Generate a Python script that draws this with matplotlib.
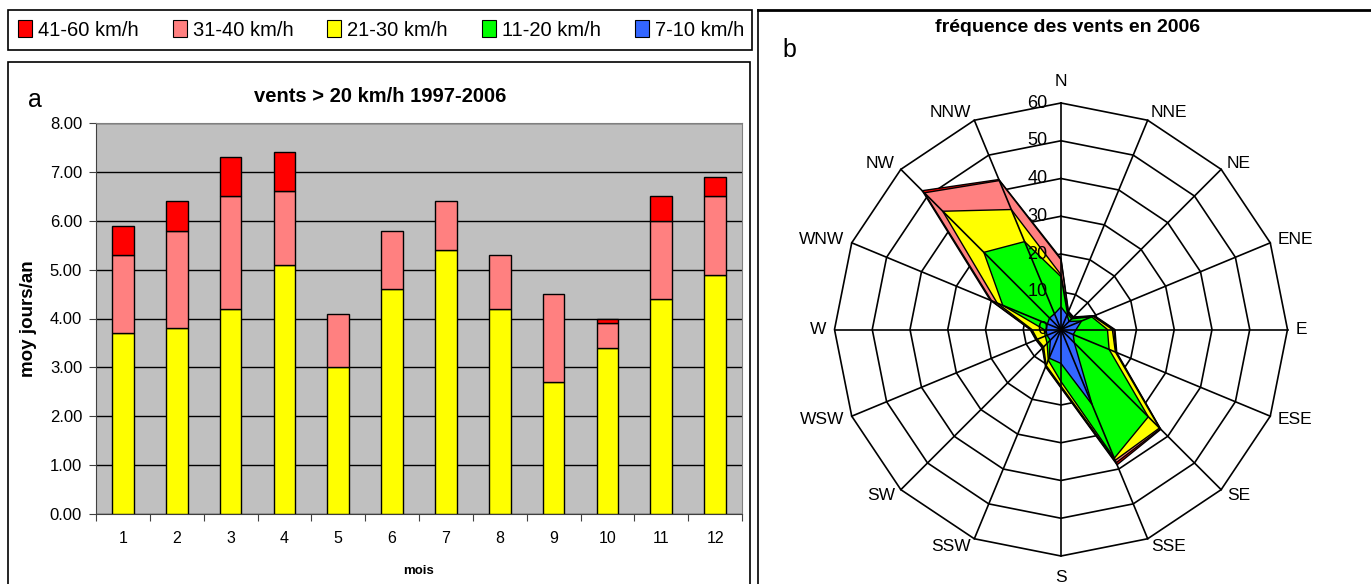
import numpy as np
import matplotlib.pyplot as plt
from matplotlib.patches import Patch, Rectangle
from matplotlib.lines import Line2D

plt.rcParams['font.family'] = ['Liberation Sans', 'DejaVu Sans']

# --- donnees graphique a : vents > 20 km/h 1997-2006 (moy jours/an)
mois = np.arange(1, 13)
v21_30 = np.array([3.7, 3.8, 4.2, 5.1, 3.0, 4.6, 5.4, 4.2, 2.7, 3.4, 4.4, 4.9])
v31_40 = np.array([1.6, 2.0, 2.3, 1.5, 1.1, 1.2, 1.0, 1.1, 1.8, 0.5, 1.6, 1.6])
v41_60 = np.array([0.6, 0.6, 0.8, 0.8, 0.0, 0.0, 0.0, 0.0, 0.0, 0.1, 0.5, 0.4])

# --- donnees graphique b : frequence des vents en 2006 (valeurs cumulees)
directions = ['N', 'NNE', 'NE', 'ENE', 'E', 'ESE', 'SE', 'SSE',
              'S', 'SSW', 'SW', 'WSW', 'W', 'WNW', 'NW', 'NNW']
f41_60 = [18.8, 5.2, 4.7, 9.6, 14.3, 16.0, 37.4, 38.8, 15.5, 10.7, 7.0, 7.2, 8.2, 20.3, 52.0, 43.0]
f31_40 = [18.5, 5.0, 4.5, 9.4, 14.0, 15.8, 37.2, 38.2, 15.3, 10.5, 6.8, 7.0, 8.0, 19.9, 51.2, 42.7]
f21_30 = [14.5, 4.8, 4.3, 9.2, 13.6, 15.6, 36.9, 37.5, 15.0, 10.3, 6.5, 6.8, 7.7, 18.3, 44.3, 34.4]
f11_20 = [14.0, 4.5, 4.0, 8.8, 12.3, 13.8, 32.7, 36.9, 13.8, 8.8, 5.2, 4.5, 4.5, 16.7, 28.9, 25.2]
f7_10 = [6.0, 4.2, 3.0, 5.9, 4.0, 3.5, 5.0, 21.5, 9.0, 8.2, 4.0, 4.0, 4.0, 3.9, 4.3, 4.5]

classes = ['41-60 km/h', '31-40 km/h', '21-30 km/h', '11-20 km/h', '7-10 km/h']
couleurs = ['#FF0000', '#FF8080', '#FFFF00', '#00FF00', '#3366FF']

W, H = 1371, 584
fig = plt.figure(figsize=(W/100, H/100), dpi=100)

def box(x0, y0, x1, y1):
    return [x0/W, 1-y1/H, (x1-x0)/W, (y1-y0)/H]

def ligne(x0, y0, x1, y1, lw=1.5):
    fig.add_artist(Line2D([x0/W, x1/W], [1-y0/H, 1-y1/H], color='black', lw=lw))

# cadres
fig.add_artist(Rectangle((8/W, 1-50/H), 744/W, 40/H, transform=fig.transFigure,
                         fill=False, lw=1.2, ec='black'))
fig.add_artist(Rectangle((8/W, 1-620/H), 742/W, 558/H, transform=fig.transFigure,
                         fill=False, lw=1.2, ec='black'))
ligne(758, 10, 1371, 10, lw=2)
ligne(758, 10, 758, 584, lw=1.2)

# legende
handles = [Patch(facecolor=c, edgecolor='black', lw=0.8) for c in couleurs]
fig.legend(handles, classes, ncol=5, loc='center', mode='expand',
           bbox_to_anchor=(10/W, 1-50/H, 742/W, 40/H), frameon=False,
           fontsize=14.5, handlelength=0.7, handleheight=0.9, handletextpad=0.3,
           borderaxespad=0, columnspacing=1.0)

# ---------- a
ax = fig.add_axes(box(96, 123, 742, 514))
ax.set_facecolor('#C0C0C0')
ax.bar(mois, v21_30, 0.4, color=couleurs[2], edgecolor='black', lw=1, zorder=3)
ax.bar(mois, v31_40, 0.4, bottom=v21_30, color=couleurs[1], edgecolor='black', lw=1, zorder=3)
haut = v21_30 + v31_40
for m, h, b in zip(mois, v41_60, haut):
    if h > 0:
        ax.bar(m, h, 0.4, bottom=b, color=couleurs[0], edgecolor='black', lw=1, zorder=3)
ax.set_xlim(0.5, 12.5)
ax.set_ylim(0, 8)
ax.set_yticks(range(9))
ax.set_yticklabels(['%.2f' % v for v in range(9)], fontsize=12)
ax.yaxis.grid(True, color='black', lw=1)
ax.set_axisbelow(True)
ax.set_xticks(np.arange(0.5, 13, 1))
ax.set_xticklabels([])
ax.set_xticks(mois, minor=True)
ax.set_xticklabels([str(m) for m in mois], minor=True, fontsize=11.5)
ax.tick_params(axis='x', which='minor', length=0, pad=12)
ax.tick_params(axis='x', which='major', length=5, color='#404040')
ax.tick_params(axis='y', length=5, color='#404040', pad=5)
for s in ['top', 'right']:
    ax.spines[s].set_color('#808080')
for s in ['left', 'bottom']:
    ax.spines[s].set_color('#404040')
ax.set_xlabel('mois', fontweight='bold', fontsize=9.5, labelpad=14)
ax.set_ylabel('moy jours/an', fontweight='bold', fontsize=13.5, labelpad=9)
fig.text(380/W, 1-97/H, 'vents > 20 km/h 1997-2006', fontweight='bold',
         fontsize=14.5, ha='center', va='center')
fig.text(28/W, 1-100/H, 'a', fontsize=18, ha='left', va='center')

# ---------- b
cx, cy, ppu = 1061, 329.5, 226.5/60
R = 240/ppu
rax = fig.add_axes(box(cx-240, cy-240, cx+240, cy+240))
rax.set_xlim(-R, R)
rax.set_ylim(-R, R)
rax.axis('off')
theta = np.deg2rad(np.arange(16)*22.5)
sx, sy = np.sin(theta), np.cos(theta)

for v in range(10, 70, 10):
    rax.plot(np.append(v*sx, v*sx[0]), np.append(v*sy, v*sy[0]),
             color='black', lw=1.2, zorder=1)
for serie, c in zip([f41_60, f31_40, f21_30, f11_20, f7_10], couleurs):
    r = np.array(serie)
    rax.fill(r*sx, r*sy, facecolor=c, edgecolor='black', lw=1, zorder=2)
for a, b in zip(sx, sy):
    rax.plot([0, 60*a], [0, 60*b], color='black', lw=1.2, zorder=3)
for v in range(0, 70, 10):
    rax.text(-3.6, v, str(v), ha='right', va='center', fontsize=13, zorder=4)
for d, a, b in zip(directions, sx, sy):
    ha = 'left' if a > 0.1 else ('right' if a < -0.1 else 'center')
    va = 'bottom' if b > 0.99 else ('top' if b < -0.99 else 'center')
    k = 10 if abs(b) > 0.99 else 6
    rax.annotate(d, (60*a, 60*b), xytext=(k*a, k*b), textcoords='offset points',
                 ha=ha, va=va, fontsize=12.5)
fig.text(1068/W, 1-28/H, 'fréquence des vents en 2006', fontweight='bold',
         fontsize=14, ha='center', va='center')
fig.text(782/W, 1-50/H, 'b', fontsize=18, ha='left', va='center')

fig.savefig('out.png', dpi=100)
